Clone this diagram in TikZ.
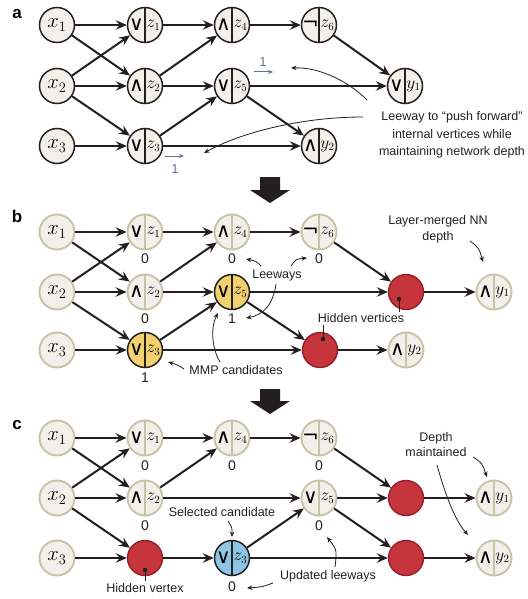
\documentclass[tikz,border=0pt]{standalone}
\usepackage{fontspec}
\setmainfont{Liberation Sans}
\newfontfamily\symfont{DejaVu Sans}
\usetikzlibrary{arrows.meta}
\definecolor{nodefill}{RGB}{243,240,234}
\definecolor{tanline}{RGB}{200,195,168}
\definecolor{yel}{RGB}{243,209,112}
\definecolor{blu}{RGB}{142,196,228}
\definecolor{redf}{RGB}{198,52,60}
\definecolor{redd}{RGB}{150,32,40}
\definecolor{edgec}{RGB}{35,31,32}
\definecolor{leewayc}{RGB}{95,115,145}
\tikzset{
  ga/.style={fill=nodefill, draw=edgec, line width=1.5pt},
  gb/.style={fill=nodefill, draw=tanline, line width=1.9pt},
  gy/.style={fill=yel, draw=edgec, line width=1.5pt},
  gc/.style={fill=blu, draw=edgec, line width=1.5pt},
  vshape/.style={circle, minimum size=35pt, inner sep=0pt},
  xnode/.style={vshape, font=\fontsize{22}{22}\selectfont},
  hidden/.style={vshape, fill=redf, draw=redd, line width=1.4pt},
  edge/.style={line width=2pt, draw=edgec, -{Stealth[length=11pt,width=9.5pt,inset=4pt]}},
  annot/.style={line width=0.8pt, draw=edgec, -{Stealth[length=5.5pt,width=4.5pt]}},
  leeway/.style={line width=1pt, draw=leewayc, -{Stealth[length=5pt,width=4pt]}},
  lbl/.style={font=\fontsize{12.5}{15.5}\selectfont, align=center, inner sep=0pt, text=edgec},
  num/.style={font=\fontsize{14}{14}\selectfont, inner sep=0pt, text=edgec},
  lnum/.style={font=\fontsize{13}{13}\selectfont, inner sep=0pt, text=leewayc},
  plabel/.style={font=\bfseries\fontsize{17}{17}\selectfont, inner sep=0pt},
  bigarrow/.style={fill=edgec}
}
\newcommand\gate[6]{%
  \node[vshape,#4] (#1) at (#2,#3) {};
  \draw[#4, fill=none] (#1.north) -- (#1.south);
  \node[font=\symfont\fontsize{20}{20}\selectfont, inner sep=0pt] (#1s) at ([xshift=-8.5pt]#1.center) {#5};
  \node[font=\fontsize{16}{16}\selectfont, inner sep=0pt] (#1l) at ([xshift=8.5pt]#1.center) {$#6$};
}
\begin{document}
\begin{tikzpicture}[x=1pt,y=-1pt]
\useasboundingbox (0,0) rectangle (527,599);
% ================= panel a =================
\node[plabel] (pa) at (17,14) {a};
\node[xnode, ga] (ax1) at (57,25) {$x_1$};
\node[xnode, ga] (ax2) at (57,86) {$x_2$};
\node[xnode, ga] (ax3) at (57,146) {$x_3$};
\gate{az1}{145}{25}{ga}{∨}{z_1}
\gate{az2}{145}{86}{ga}{∧}{z_2}
\gate{az3}{145}{146}{ga}{∨}{z_3}
\gate{az4}{232}{25}{ga}{∧}{z_4}
\gate{az5}{232}{86}{ga}{∨}{z_5}
\gate{az6}{319}{25}{ga}{¬}{z_6}
\gate{ay1}{405}{86}{ga}{∨}{y_1}
\gate{ay2}{319}{146}{ga}{∧}{y_2}
\draw[edge] (ax1) -- (az1);
\draw[edge] (ax1) -- (az2);
\draw[edge] (ax2) -- (az1);
\draw[edge] (ax2) -- (az2);
\draw[edge] (ax2) -- (az3);
\draw[edge] (ax3) -- (az3);
\draw[edge] (az1) -- (az4);
\draw[edge] (az2) -- (az4);
\draw[edge] (az2) -- (az5);
\draw[edge] (az3) -- (az5);
\draw[edge] (az3) -- (ay2);
\draw[edge] (az4) -- (az6);
\draw[edge] (az6) -- (ay1);
\draw[edge] (az5) -- (ay1);
\draw[edge] (az5) -- (ay2);
\coordinate (la1s) at (254,72); \coordinate (la1e) at (273,72);
\draw[leeway] (la1s) -- (la1e);
\node[lnum] (la1n) at (263,62) {1};
\coordinate (la2s) at (165,156); \coordinate (la2e) at (184,156);
\draw[leeway] (la2s) -- (la2e);
\node[lnum] (la2n) at (175,169) {1};
\node[lbl, font=\fontsize{12.5}{17.5}\selectfont] (aleew) at (452,135) {Leeway to “push forward”\\internal vertices while\\maintaining network depth};
\coordinate (aa1s) at (367,100); \coordinate (aa1e) at (291,68);
\draw[annot] (aa1s) .. controls (347,80) and (318,67) .. (aa1e);
\coordinate (aa2s) at (363,117); \coordinate (aa2e) at (204,153);
\draw[annot] (aa2s) .. controls (300,117) and (240,133) .. (aa2e);
% big arrow a->b
\fill[bigarrow] (260,177) -- (280,177) -- (280,190) -- (290,190) -- (270,203) -- (250,190) -- (260,190) -- cycle;
% ================= panel b =================
\node[plabel] (pb) at (17,216) {b};
\node[xnode, gb] (bx1) at (57,232) {$x_1$};
\node[xnode, gb] (bx2) at (57,292) {$x_2$};
\node[xnode, gb] (bx3) at (57,350) {$x_3$};
\gate{bz1}{145}{232}{gb}{∨}{z_1}
\gate{bz2}{145}{292}{gb}{∧}{z_2}
\gate{bz3}{145}{350}{gy}{∨}{z_3}
\gate{bz4}{232}{232}{gb}{∧}{z_4}
\gate{bz5}{232}{292}{gy}{∨}{z_5}
\gate{bz6}{319}{232}{gb}{¬}{z_6}
\node[hidden] (bh1) at (406,292) {};
\node[hidden] (bh2) at (320,350) {};
\gate{by1}{494}{292}{gb}{∧}{y_1}
\gate{by2}{406}{350}{gb}{∧}{y_2}
\draw[edge] (bx1) -- (bz1);
\draw[edge] (bx1) -- (bz2);
\draw[edge] (bx2) -- (bz1);
\draw[edge] (bx2) -- (bz2);
\draw[edge] (bx2) -- (bz3);
\draw[edge] (bx3) -- (bz3);
\draw[edge] (bz1) -- (bz4);
\draw[edge] (bz2) -- (bz4);
\draw[edge] (bz2) -- (bz5);
\draw[edge] (bz3) -- (bz5);
\draw[edge] (bz3) -- (bh2);
\draw[edge] (bz4) -- (bz6);
\draw[edge] (bz6) -- (bh1);
\draw[edge] (bz5) -- (bh1);
\draw[edge] (bz5) -- (bh2);
\draw[edge] (bh1) -- (by1);
\draw[edge] (bh2) -- (by2);
\node[num] (bn1) at ([yshift=-27pt]bz1.center) {0};
\node[num] (bn2) at ([yshift=-27pt]bz2.center) {0};
\node[num] (bn3) at ([yshift=-28pt]bz3.center) {1};
\node[num] (bn4) at ([yshift=-27pt]bz4.center) {0};
\node[num] (bn5) at ([yshift=-27pt]bz5.center) {1};
\node[num] (bn6) at ([yshift=-27pt]bz6.center) {0};
\node[lbl] (bleew) at (277,275) {Leeways};
\draw[annot] (261,266) .. controls (256,261) .. (246,259);
\draw[annot] (291,266) .. controls (296,259) .. (307,258);
\draw[annot] (276,284) .. controls (273,305) and (263,315) .. (246,318);
\node[lbl] (bmmp) at (236,370) {MMP candidates};
\draw[annot] (184,369) .. controls (178,365) .. (168,362);
\draw[annot] (220,362) .. controls (211,347) and (211,326) .. (218,313);
\node[lbl] (bhid) at (361,318) {Hidden vertices};
\coordinate (bd1) at (399,299); \coordinate (bd1e) at (399,312);
\fill[edgec] (bd1) circle (2.2);
\draw[line width=0.8pt, edgec] (bd1) -- (bd1e);
\coordinate (bd2) at (323,339); \coordinate (bd2e) at (323,325);
\fill[edgec] (bd2) circle (2.2);
\draw[line width=0.8pt, edgec] (bd2) -- (bd2e);
\node[lbl] (blay) at (438,229.5) {Layer-merged NN\\depth};
\draw[annot] (470,241) .. controls (479,248) .. (483,262);
% big arrow b->c
\fill[bigarrow] (260,389) -- (280,389) -- (280,401) -- (290,401) -- (270,414) -- (250,401) -- (260,401) -- cycle;
% ================= panel c =================
\node[plabel] (pc) at (17,425) {c};
\node[xnode, gb] (cx1) at (57,438) {$x_1$};
\node[xnode, gb] (cx2) at (57,498) {$x_2$};
\node[xnode, gb] (cx3) at (57,558) {$x_3$};
\gate{cz1}{145}{438}{gb}{∨}{z_1}
\gate{cz2}{145}{498}{gb}{∧}{z_2}
\node[hidden] (ch0) at (145,558) {};
\gate{cz3}{232}{558}{gc}{∨}{z_3}
\gate{cz4}{232}{438}{gb}{∧}{z_4}
\gate{cz6}{319}{438}{gb}{¬}{z_6}
\gate{cz5}{319}{498}{gb}{∨}{z_5}
\node[hidden] (ch1) at (406,498) {};
\node[hidden] (ch2) at (406,558) {};
\gate{cy1}{494}{498}{gb}{∧}{y_1}
\gate{cy2}{494}{558}{gb}{∧}{y_2}
\draw[edge] (cx1) -- (cz1);
\draw[edge] (cx1) -- (cz2);
\draw[edge] (cx2) -- (cz1);
\draw[edge] (cx2) -- (cz2);
\draw[edge] (cx2) -- (ch0);
\draw[edge] (cx3) -- (ch0);
\draw[edge] (cz1) -- (cz4);
\draw[edge] (cz2) -- (cz4);
\draw[edge] (cz2) -- (cz5);
\draw[edge] (ch0) -- (cz3);
\draw[edge] (cz3) -- (cz5);
\draw[edge] (cz3) -- (ch2);
\draw[edge] (cz4) -- (cz6);
\draw[edge] (cz6) -- (ch1);
\draw[edge] (cz5) -- (ch1);
\draw[edge] (cz5) -- (ch2);
\draw[edge] (ch1) -- (cy1);
\draw[edge] (ch2) -- (cy2);
\node[num] (cn1) at ([yshift=-28pt]cz1.center) {0};
\node[num] (cn2) at ([yshift=-28pt]cz2.center) {0};
\node[num] (cn4) at ([yshift=-28pt]cz4.center) {0};
\node[num] (cn6) at ([yshift=-28pt]cz6.center) {0};
\node[num] (cn5) at ([yshift=-28pt]cz5.center) {0};
\node[num] (cn3) at ([yshift=-29pt]cz3.center) {0};
\node[lbl] (csel) at (222,512) {Selected candidate};
\draw[annot] (228,521) .. controls (232,527) .. (232,537);
\node[lbl] (chid) at (145,588) {Hidden vertex};
\coordinate (cd0) at (145,570); \coordinate (cd0e) at (145,581);
\fill[edgec] (cd0) circle (2.2);
\draw[line width=0.8pt, edgec] (cd0) -- (cd0e);
\node[lbl] (cupd) at (328,576) {Updated leeways};
\draw[annot] (335,567) .. controls (337,550) .. (327,537);
\draw[annot] (273,583) .. controls (262,587) .. (247,588);
\node[lbl] (cdep) at (436,444.5) {Depth\\maintained};
\draw[annot] (473,457) .. controls (482,463) .. (487,477);
\draw[annot] (437,465) .. controls (446,497) and (455,520) .. (468,535);
\end{tikzpicture}
\end{document}
